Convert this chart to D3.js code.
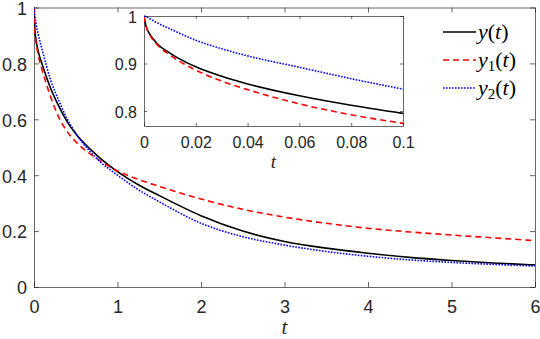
<!DOCTYPE html>
<html>
<head>
<meta charset="utf-8">
<script src="https://cdn.jsdelivr.net/npm/d3@7"></script>
<style>
html,body{margin:0;padding:0;background:#fff;}
svg{display:block;}
.tick text{font-family:"Liberation Sans",Arial,sans-serif;fill:#262626;}
</style>
</head>
<body>
<svg id="chart" width="540" height="339"></svg>
<script>
// ---- data ----
const mainT  = [0, 0.01, 0.02, 0.05, 0.1, 0.2, 0.3, 0.4, 0.5, 0.75, 1, 1.25, 1.5, 2, 2.5, 3, 3.5, 4, 4.5, 5, 5.5, 6];
const yMain  = [1, 0.921, 0.893, 0.844, 0.795, 0.71, 0.645, 0.59, 0.548, 0.472, 0.413, 0.366, 0.327, 0.255, 0.2, 0.163, 0.139, 0.121, 0.106, 0.095, 0.086, 0.079];
const y1Main = [1, 0.917, 0.886, 0.83, 0.774, 0.68, 0.605, 0.555, 0.52, 0.46, 0.415, 0.385, 0.36, 0.315, 0.278, 0.25, 0.228, 0.21, 0.197, 0.186, 0.176, 0.166];
const y2Main = [1, 0.971, 0.949, 0.905, 0.846, 0.74, 0.665, 0.60, 0.55, 0.46, 0.40, 0.348, 0.305, 0.228, 0.18, 0.15, 0.127, 0.11, 0.097, 0.088, 0.081, 0.075];

const insetT  = [0, 0.0005, 0.001, 0.002, 0.005, 0.01, 0.02, 0.03, 0.04, 0.06, 0.08, 0.1];
const yInset  = [1, 0.985, 0.975, 0.964, 0.942, 0.922, 0.893, 0.873, 0.857, 0.832, 0.812, 0.795];
const y1Inset = [1, 0.985, 0.975, 0.963, 0.940, 0.918, 0.886, 0.863, 0.845, 0.815, 0.792, 0.774];
const y2Inset = [1, 0.999, 0.998, 0.995, 0.986, 0.973, 0.949, 0.931, 0.916, 0.892, 0.868, 0.846];

const mainXTicks = [0, 1, 2, 3, 4, 5, 6];
const mainYTicks = [0, 0.2, 0.4, 0.6, 0.8, 1];
const mainYLabels = ["0", "0.2", "0.4", "0.6", "0.8", "1"];
const insetXTicks = [0, 0.02, 0.04, 0.06, 0.08, 0.1];
const insetXLabels = ["0", "0.02", "0.04", "0.06", "0.08", "0.1"];
const insetYTicks = [0.8, 0.9, 1];
const insetYLabels = ["0.8", "0.9", "1"];

const seriesNames = ["y", "y1", "y2"];
const seriesColors = ["#000000", "#ff0000", "#0000ff"];
const seriesDash = [null, "6,4", "1.6,1.4"];

// ---- drawing ----
const svg = d3.select("#chart");
const AX = "#262626";

function drawAxes(g, x, y, opts) {
  const [x0, x1] = x.range();
  const [y0, y1] = y.range();
  g.append("rect").attr("x", x0).attr("y", y1).attr("width", x1 - x0).attr("height", y0 - y1)
    .attr("fill", "#fff");
  const tl = opts.tick;
  const bottom = d3.axisBottom(x).tickValues(opts.xt).tickFormat((d, i) => opts.xl[i])
    .tickSizeInner(-tl).tickSizeOuter(0).tickPadding(opts.xpad);
  const top = d3.axisTop(x).tickValues(opts.xt).tickFormat("").tickSizeInner(-tl).tickSizeOuter(0);
  const left = d3.axisLeft(y).tickValues(opts.yt).tickFormat((d, i) => opts.yl[i])
    .tickSizeInner(-tl).tickSizeOuter(0).tickPadding(opts.ypad);
  const right = d3.axisRight(y).tickValues(opts.yt).tickFormat("").tickSizeInner(-tl).tickSizeOuter(0);
  const gb = g.append("g").attr("transform", `translate(0,${y0})`).call(bottom);
  const gt = g.append("g").attr("transform", `translate(0,${y1})`).call(top);
  const gl = g.append("g").attr("transform", `translate(${x0},0)`).call(left);
  const gr = g.append("g").attr("transform", `translate(${x1},0)`).call(right);
  [gb, gt, gl, gr].forEach(a => {
    a.selectAll("path.domain").attr("stroke", AX).attr("stroke-width", 0.7);
    a.selectAll(".tick line").attr("stroke", AX).attr("stroke-width", 0.7);
    a.selectAll(".tick text").attr("font-size", opts.fs + "px").attr("fill", AX);
  });
  gl.selectAll(".tick text").attr("dy", "0.38em");
  return g;
}

function drawCurves(g, x, y, tArr, seriesArr, clipId) {
  const [x0, x1] = x.range();
  const [y0, y1] = y.range();
  g.append("clipPath").attr("id", clipId).append("rect")
    .attr("x", x0).attr("y", y1 - 2).attr("width", x1 - x0 + 1).attr("height", y0 - y1 + 4);
  const line = d3.line().x(d => x(d[0])).y(d => y(d[1])).curve(d3.curveMonotoneX);
  seriesArr.forEach((vals, i) => {
    const pts = tArr.map((t, j) => [t, vals[j]]);
    g.append("path").attr("d", line(pts)).attr("fill", "none")
      .attr("stroke", seriesColors[i]).attr("stroke-width", 1.6)
      .attr("stroke-dasharray", seriesDash[i])
      .attr("clip-path", `url(#${clipId})`);
  });
}

// main axes
const xMain = d3.scaleLinear().domain([0, 6]).range([34, 535]);
const yMainS = d3.scaleLinear().domain([0, 1]).range([287, 7.5]);
const gMain = svg.append("g");
drawAxes(gMain, xMain, yMainS, {xt: mainXTicks, xl: mainXTicks.map(String), yt: mainYTicks, yl: mainYLabels,
  tick: 5, xpad: 13, ypad: 7, fs: 18});
drawCurves(gMain, xMain, yMainS, mainT, [yMain, y1Main, y2Main], "clipMain");
gMain.append("text").attr("x", 284.5).attr("y", 334).attr("text-anchor", "middle")
  .attr("font-family", "'Liberation Serif','Times New Roman',serif").attr("font-style", "italic")
  .attr("font-size", "21px").attr("fill", AX).text("t");

// inset axes
const xIn = d3.scaleLinear().domain([0, 0.1]).range([144, 403]);
const yIn = d3.scaleLinear().domain([0.7684, 1]).range([126, 16]);
const gIn = svg.append("g");
drawAxes(gIn, xIn, yIn, {xt: insetXTicks, xl: insetXLabels, yt: insetYTicks, yl: insetYLabels,
  tick: 3, xpad: 10.5, ypad: 7, fs: 16});
drawCurves(gIn, xIn, yIn, insetT, [yInset, y1Inset, y2Inset], "clipIn");
gIn.append("text").attr("x", 273.5).attr("y", 167.5).attr("text-anchor", "middle")
  .attr("font-family", "'Liberation Serif','Times New Roman',serif").attr("font-style", "italic")
  .attr("font-size", "19px").attr("fill", AX).text("t");

// legend
const gLeg = svg.append("g");
const legY = d3.scalePoint().domain(seriesNames).range([32, 88]);
seriesNames.forEach((name, i) => {
  const yy = legY(name);
  gLeg.append("line").attr("x1", 443).attr("x2", 476).attr("y1", yy).attr("y2", yy)
    .attr("stroke", seriesColors[i]).attr("stroke-width", 1.6).attr("stroke-dasharray", seriesDash[i]);
  const t = gLeg.append("text").attr("x", 478).attr("y", yy + 6.5)
    .attr("font-family", "'Liberation Serif','Times New Roman',serif").attr("font-size", "22px").attr("fill", "#000");
  t.append("tspan").attr("font-style", "italic").text("y");
  if (i > 0) {
    t.append("tspan").attr("font-size", "15px").attr("dy", 4).text(String(i));
    t.append("tspan").attr("dy", -4).text("(");
  } else {
    t.append("tspan").text("(");
  }
  t.append("tspan").attr("font-style", "italic").text("t");
  t.append("tspan").text(")");
});
</script>
</body>
</html>
